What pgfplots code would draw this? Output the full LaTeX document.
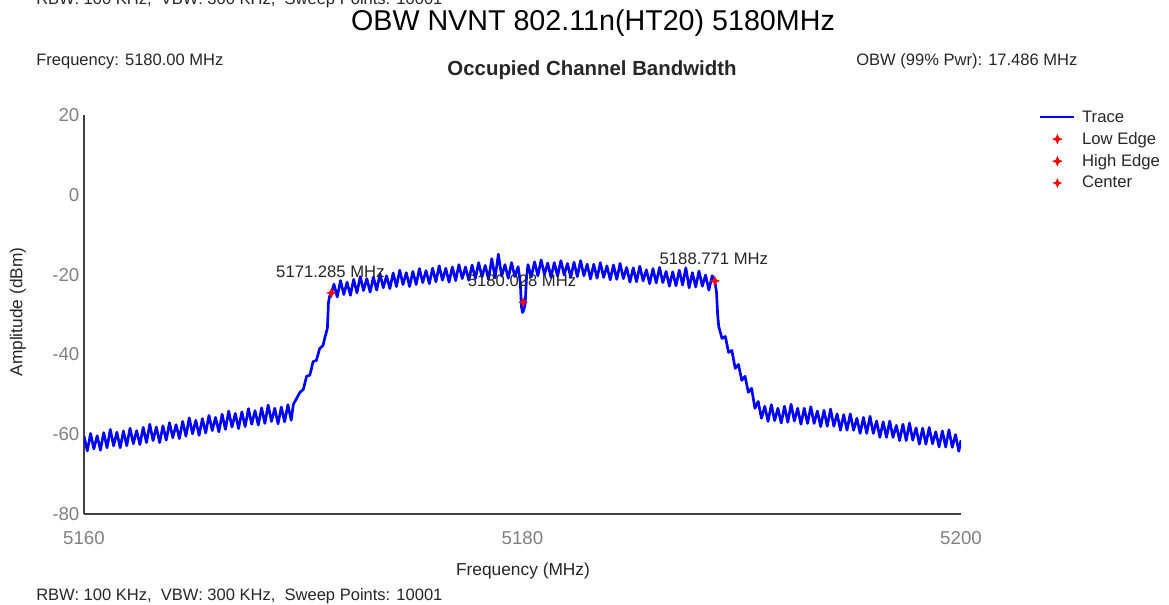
\documentclass[border=0pt]{standalone}
\usepackage{fontspec}
\setmainfont{Liberation Sans}
\usepackage{pgfplots}
\pgfplotsset{compat=1.18}
\definecolor{txt}{HTML}{262626}
\definecolor{tickc}{HTML}{808080}
\pgfdeclareplotmark{star4}{%
  \pgfpathmoveto{\pgfqpoint{0pt}{\pgfplotmarksize}}%
  \pgfpathlineto{\pgfqpoint{0.3\pgfplotmarksize}{0.3\pgfplotmarksize}}%
  \pgfpathlineto{\pgfqpoint{\pgfplotmarksize}{0pt}}%
  \pgfpathlineto{\pgfqpoint{0.3\pgfplotmarksize}{-0.3\pgfplotmarksize}}%
  \pgfpathlineto{\pgfqpoint{0pt}{-\pgfplotmarksize}}%
  \pgfpathlineto{\pgfqpoint{-0.3\pgfplotmarksize}{-0.3\pgfplotmarksize}}%
  \pgfpathlineto{\pgfqpoint{-\pgfplotmarksize}{0pt}}%
  \pgfpathlineto{\pgfqpoint{-0.3\pgfplotmarksize}{0.3\pgfplotmarksize}}%
  \pgfpathclose
  \pgfusepathqfillstroke}
\pgfplotsset{
  tracelegend/.style={legend image code/.code={\draw[##1, line width=1.5pt] (0cm,0cm) -- (0.9cm,0cm);}},
  marklegend/.style={legend image code/.code={\draw[##1] plot coordinates {(0.45cm,0cm)};}},
}
\begin{document}
\begin{tikzpicture}
\path[use as bounding box] (-63pt,-67.5pt) rectangle (813.75pt,385.5pt);
\begin{axis}[
  at={(0pt,0pt)}, anchor=south west,
  scale only axis, width=657.75pt, height=299.25pt,
  xmin=5160, xmax=5200, ymin=-80, ymax=20,
  axis x line*=bottom, axis y line*=left,
  axis line style={line width=1.2pt, color=black!75},
  xtick={5160,5180,5200}, ytick={-80,-60,-40,-20,0,20},
  major tick length=0pt,
  tick label style={font=\fontsize{14}{16}\selectfont, text=tickc},
  /pgf/number format/assume math mode=true,
  /pgf/number format/1000 sep={},
  xticklabel style={yshift=-9.5pt},
  legend cell align=left,
  legend style={at={(1.089,1.015)}, anchor=north west, draw=none, fill=none,
    font=\fontsize{12.5}{14}\selectfont, text=txt, row sep=4pt, column sep=4pt, inner sep=0pt,
    nodes={inner sep=1pt}},
]
\addplot[color=blue, line width=2pt, line join=round, tracelegend] coordinates {
(5160.00,-60.5) (5160.15,-64.2) (5160.30,-59.8) (5160.45,-63.7) (5160.60,-60.4) (5160.75,-64.0)
(5160.90,-59.6) (5161.05,-63.4) (5161.20,-58.8) (5161.35,-62.9) (5161.50,-59.5) (5161.65,-63.4)
(5161.80,-59.2) (5161.95,-62.9) (5162.10,-58.5) (5162.25,-62.4) (5162.40,-59.1) (5162.55,-62.6)
(5162.70,-58.3) (5162.85,-62.1) (5163.00,-57.5) (5163.15,-61.6) (5163.30,-58.2) (5163.45,-62.1)
(5163.60,-57.9) (5163.75,-61.5) (5163.90,-57.1) (5164.05,-60.9) (5164.20,-57.6) (5164.35,-61.1)
(5164.50,-56.8) (5164.65,-60.5) (5164.80,-55.9) (5164.95,-59.9) (5165.10,-56.5) (5165.25,-60.3)
(5165.40,-56.1) (5165.55,-59.7) (5165.70,-55.3) (5165.85,-59.1) (5166.00,-55.8) (5166.15,-59.4)
(5166.30,-55.0) (5166.45,-58.8) (5166.60,-54.2) (5166.75,-58.2) (5166.90,-54.8) (5167.05,-58.6)
(5167.20,-54.4) (5167.35,-58.1) (5167.50,-53.6) (5167.65,-57.5) (5167.80,-54.1) (5167.95,-57.7)
(5168.10,-53.4) (5168.25,-57.3) (5168.40,-52.7) (5168.55,-56.8) (5168.70,-53.5) (5168.85,-57.4)
(5169.00,-53.2) (5169.15,-56.9) (5169.30,-52.6) (5169.45,-56.5)
(5169.55,-52.5) (5169.70,-51.0) (5169.85,-49.5) (5170.00,-48.8) (5170.15,-45.5) (5170.30,-45.2)
(5170.45,-41.8) (5170.60,-41.5) (5170.75,-38.5) (5170.90,-37.8) (5171.00,-35.5) (5171.10,-33.5)
(5171.15,-27.0) (5171.20,-25.5) (5171.285,-24.6)
(5171.40,-22.4) (5171.55,-25.6) (5171.70,-21.5) (5171.85,-25.0) (5172.00,-21.9) (5172.15,-25.2)
(5172.30,-21.2) (5172.45,-24.6) (5172.60,-20.5) (5172.75,-24.0) (5172.90,-21.0) (5173.05,-24.4)
(5173.20,-20.6) (5173.35,-23.9) (5173.50,-19.8) (5173.65,-23.3) (5173.80,-20.3) (5173.95,-23.5)
(5174.10,-19.6) (5174.25,-23.0) (5174.40,-18.9) (5174.55,-22.5) (5174.70,-19.5) (5174.85,-23.0)
(5175.00,-19.2) (5175.15,-22.5) (5175.30,-18.5) (5175.45,-22.0) (5175.60,-19.0) (5175.75,-22.3)
(5175.90,-18.4) (5176.05,-21.8) (5176.20,-17.8) (5176.35,-21.4) (5176.50,-18.4) (5176.65,-21.9)
(5176.80,-18.1) (5176.95,-21.5) (5177.10,-17.5) (5177.25,-21.0) (5177.40,-18.1) (5177.55,-21.4)
(5177.70,-17.6) (5177.85,-21.0) (5178.00,-17.0) (5178.15,-20.6) (5178.30,-17.7) (5178.45,-21.2)
(5178.60,-16.0) (5178.75,-20.8) (5178.90,-14.9) (5179.05,-20.4) (5179.20,-17.5) (5179.35,-20.9)
(5179.50,-17.0) (5179.65,-20.5)
(5179.80,-18.0) (5179.90,-22.0) (5179.95,-28.0) (5180.00,-29.5) (5180.05,-29.0) (5180.12,-27.5)
(5180.18,-21.0) (5180.25,-17.5)
(5180.40,-20.6) (5180.55,-16.8) (5180.70,-20.3) (5180.85,-16.3) (5181.00,-20.0) (5181.15,-17.1)
(5181.30,-20.7) (5181.45,-17.0) (5181.60,-20.4) (5181.75,-16.5) (5181.90,-20.1) (5182.05,-17.2)
(5182.20,-20.7) (5182.35,-16.9) (5182.50,-20.5) (5182.65,-16.5) (5182.80,-20.3) (5182.95,-17.4)
(5183.10,-21.1) (5183.25,-17.4) (5183.40,-20.9) (5183.55,-17.0) (5183.70,-20.7) (5183.85,-17.8)
(5184.00,-21.3) (5184.15,-17.6) (5184.30,-21.2) (5184.45,-17.2) (5184.60,-21.0) (5184.75,-18.2)
(5184.90,-21.9) (5185.05,-18.3) (5185.20,-21.8) (5185.35,-17.9) (5185.50,-21.6) (5185.65,-18.8)
(5185.80,-22.3) (5185.95,-18.5) (5186.10,-22.1) (5186.25,-18.2) (5186.40,-22.0) (5186.55,-19.2)
(5186.70,-22.9) (5186.85,-19.3) (5187.00,-22.8) (5187.15,-18.9) (5187.30,-22.6) (5187.45,-18.3)
(5187.60,-23.3) (5187.75,-19.5) (5187.90,-23.1) (5188.05,-19.1) (5188.20,-22.9) (5188.35,-20.1)
(5188.50,-23.9) (5188.65,-20.3) (5188.771,-21.6)
(5188.85,-24.5) (5188.90,-30.0) (5188.95,-33.0) (5189.10,-36.0) (5189.25,-35.5) (5189.40,-39.5)
(5189.55,-39.0) (5189.70,-43.5) (5189.85,-42.5) (5190.00,-46.5) (5190.15,-45.5) (5190.30,-49.5)
(5190.45,-48.5) (5190.60,-53.5) (5190.75,-51.8) (5190.90,-56.0)
(5191.05,-53.0) (5191.20,-56.8) (5191.35,-52.6) (5191.50,-56.6) (5191.65,-53.5) (5191.80,-57.2)
(5191.95,-53.0) (5192.10,-57.0) (5192.25,-52.5) (5192.40,-56.7) (5192.55,-53.5) (5192.70,-57.5)
(5192.85,-53.5) (5193.00,-57.3) (5193.15,-53.1) (5193.30,-57.3) (5193.45,-54.2) (5193.60,-58.1)
(5193.75,-54.0) (5193.90,-58.0) (5194.05,-53.7) (5194.20,-58.0) (5194.35,-54.9) (5194.50,-59.0)
(5194.65,-55.1) (5194.80,-59.0) (5194.95,-54.9) (5195.10,-59.0) (5195.25,-56.0) (5195.40,-59.8)
(5195.55,-55.8) (5195.70,-59.8) (5195.85,-55.5) (5196.00,-59.8) (5196.15,-56.7) (5196.30,-60.8)
(5196.45,-56.9) (5196.60,-60.8) (5196.75,-56.7) (5196.90,-60.8) (5197.05,-57.8) (5197.20,-61.6)
(5197.35,-57.5) (5197.50,-61.6) (5197.65,-57.2) (5197.80,-61.5) (5197.95,-58.4) (5198.10,-62.5)
(5198.25,-58.5) (5198.40,-62.5) (5198.55,-58.3) (5198.70,-62.4) (5198.85,-59.4) (5199.00,-63.2)
(5199.15,-59.2) (5199.30,-63.2) (5199.45,-58.9) (5199.60,-63.3) (5199.75,-60.1) (5199.90,-64.3)
(5200.00,-61.5)
};
\addlegendentry{Trace}
\addplot[only marks, mark=star4, mark size=3.5pt, color=red, mark options={fill=red, draw=red, line width=0.3pt}, marklegend] coordinates {(5171.285,-24.6)};
\addlegendentry{Low Edge}
\addplot[only marks, mark=star4, mark size=3.5pt, color=red, mark options={fill=red, draw=red, line width=0.3pt}, marklegend] coordinates {(5188.771,-21.6)};
\addlegendentry{High Edge}
\addplot[only marks, mark=star4, mark size=3.2pt, color=red, mark options={fill=red, draw=red, line width=0.3pt}, marklegend] coordinates {(5180.028,-26.9)};
\addlegendentry{Center}
\node[font=\fontsize{12.5}{14}\selectfont, text=txt] at (axis cs:5171.24,-19.35) {5171.285 MHz};
\node[font=\fontsize{12.5}{14}\selectfont, text=txt] at (axis cs:5179.98,-21.6) {5180.028 MHz};
\node[font=\fontsize{12.5}{14}\selectfont, text=txt] at (axis cs:5188.73,-16.1) {5188.771 MHz};
\end{axis}
% texts around the axis
\node[anchor=base west, inner sep=0pt, font=\fontsize{12.4}{14}\selectfont, text=txt] at (-36pt,381.75pt) {RBW: 100 KHz,\ \ VBW: 300 KHz,\ \ Sweep Points: 10001};
\node[anchor=base, inner sep=0pt, font=\fontsize{21.5}{24}\selectfont, text=black] at (381.75pt,362.25pt) {OBW NVNT 802.11n(HT20) 5180MHz};
\node[anchor=base west, inner sep=0pt, font=\fontsize{12.4}{14}\selectfont, text=txt] at (-36pt,336pt) {Frequency: 5180.00 MHz};
\node[anchor=base west, inner sep=0pt, font=\fontsize{12.4}{14}\selectfont, text=txt] at (579pt,336pt) {OBW (99\% Pwr): 17.486 MHz};
\node[anchor=base, inner sep=0pt, font=\fontsize{15.3}{18}\selectfont\bfseries, text=txt] at (381pt,328.5pt) {Occupied Channel Bandwidth};
\node[anchor=base, inner sep=0pt, font=\fontsize{13}{15}\selectfont, text=txt] at (329.25pt,-46.1pt) {Frequency (MHz)};
\node[anchor=center, inner sep=0pt, rotate=90, font=\fontsize{13}{15}\selectfont, text=txt] at (-49.5pt,151.5pt) {Amplitude (dBm)};
\node[anchor=base west, inner sep=0pt, font=\fontsize{12.4}{14}\selectfont, text=txt] at (-36pt,-64.5pt) {RBW: 100 KHz,\ \ VBW: 300 KHz,\ \ Sweep Points: 10001};
\end{tikzpicture}
\end{document}
